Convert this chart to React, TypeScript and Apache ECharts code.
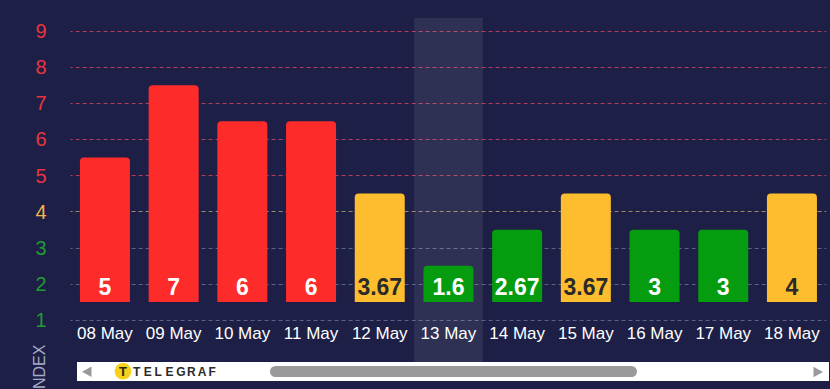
import React, { useEffect, useRef } from "react";
import * as echarts from "echarts";

const categories = ["08 May", "09 May", "10 May", "11 May", "12 May", "13 May", "14 May", "15 May", "16 May", "17 May", "18 May"];
const indexValues = [5, 7, 6, 6, 3.67, 1.6, 2.67, 3.67, 3, 3, 4];
const barLevels = [5, 7, 6, 6, 4, 2, 3, 4, 3, 3, 4];
const yTicks = [1, 2, 3, 4, 5, 6, 7, 8, 9];
const highlighted = "13 May";
const barBase = 1.5;

const RED = "#fe2b2b";
const YELLOW = "#fdbd2e";
const GREEN = "#059d0f";
const FONT = "'Liberation Sans', Arial, sans-serif";

function levelColor(v: number) {
  if (v >= 5) return RED;
  if (v >= 4) return YELLOW;
  return GREEN;
}
function tickColor(v: number) {
  if (v >= 5) return "#e8353d";
  if (v >= 4) return "#f2b447";
  return "#1f9d32";
}
function gridColor(v: number) {
  if (v >= 5) return "#b53c5a";
  if (v >= 4) return "#9a8a6c";
  return "#5e6386";
}

export default function App() {
  const ref = useRef<HTMLDivElement>(null);
  useEffect(() => {
    if (!ref.current) return;
    const chart = echarts.init(ref.current, null, { renderer: "svg" });
    const left = 70.6;
    const right = 3.7;
    const letters = "TELEGRAF".split("");
    const graphics: any[] = [
      {
        type: "text",
        x: 39,
        y: 369,
        rotation: Math.PI / 2,
        style: {
          text: "INDEX",
          fill: "#a9a9c9",
          font: `16px ${FONT}`,
          align: "center",
          verticalAlign: "middle",
        },
      },
      { type: "rect", shape: { x: 77, y: 362, width: 752, height: 19 }, style: { fill: "#ffffff" } },
      { type: "polygon", shape: { points: [[82, 371.7], [91.5, 366.5], [91.5, 377]] }, style: { fill: "#9a9a9a" } },
      { type: "polygon", shape: { points: [[823, 372], [813.5, 366.7], [813.5, 377.3]] }, style: { fill: "#9a9a9a" } },
      { type: "rect", shape: { x: 270, y: 366, width: 367, height: 11, r: 5.5 }, style: { fill: "#9a9a9a" } },
      { type: "circle", shape: { cx: 123, cy: 371.3, r: 8.3 }, style: { fill: "#f6d117" } },
      {
        type: "text",
        x: 123,
        y: 371.8,
        style: { text: "T", fill: "#1e2a22", font: `bold 13px ${FONT}`, align: "center", verticalAlign: "middle" },
      },
      ...letters.map((ch, i) => ({
        type: "text",
        x: 133 + i * 10.8,
        y: 372,
        style: { text: ch, fill: "#2b2b2b", font: `bold 12px ${FONT}`, align: "left", verticalAlign: "middle" },
      })),
    ];

    chart.setOption({
      animation: false,
      backgroundColor: "#1d1f46",
      grid: [
        { left, right, top: 31, bottom: 69 },
        { left, right, top: 18, bottom: 27 },
      ],
      xAxis: [
        {
          type: "category",
          gridIndex: 0,
          data: categories,
          axisLine: { show: false },
          axisTick: { show: false },
          axisLabel: { color: "#ffffff", fontSize: 17, fontFamily: FONT, margin: 5, interval: 0 },
          splitLine: { show: false },
        },
        {
          type: "category",
          gridIndex: 1,
          data: categories,
          axisLine: { show: false },
          axisTick: { show: false },
          axisLabel: { show: false },
          splitLine: { show: false },
          axisPointer: {
            show: true,
            type: "shadow",
            value: categories.indexOf(highlighted),
            status: "show",
            triggerTooltip: false,
            label: { show: false },
            shadowStyle: { color: "rgba(255,255,255,0.08)" },
            z: 0,
          },
        },
      ],
      yAxis: [
        {
          type: "value",
          gridIndex: 0,
          min: yTicks[0],
          max: yTicks[yTicks.length - 1],
          interval: 1,
          axisLine: { show: false },
          axisTick: { show: false },
          axisLabel: {
            fontSize: 20,
            fontFamily: FONT,
            margin: 24,
            color: (v: any) => tickColor(Number(v)),
          },
          splitLine: {
            show: true,
            lineStyle: { type: [4, 3], dashOffset: 2, width: 1, color: yTicks.map(gridColor) },
          },
        },
        { type: "value", gridIndex: 1, show: false, min: 0, max: 1 },
      ],
      series: [
        {
          type: "bar",
          stack: "idx",
          xAxisIndex: 0,
          yAxisIndex: 0,
          barWidth: 50,
          silent: true,
          itemStyle: { color: "transparent" },
          data: categories.map(() => barBase),
        },
        {
          type: "bar",
          stack: "idx",
          xAxisIndex: 0,
          yAxisIndex: 0,
          barWidth: 50,
          data: barLevels.map((lv, i) => ({
            value: lv + 0.5 - barBase,
            itemStyle: { color: levelColor(lv), borderRadius: [4, 4, 0, 0] },
            label: {
              show: true,
              position: "insideBottom",
              distance: 3,
              formatter: String(indexValues[i]),
              color: levelColor(lv) === YELLOW ? "#2a2a2a" : "#ffffff",
              fontSize: 23,
              fontWeight: "bold",
              fontFamily: FONT,
            },
          })),
        },
      ],
      graphic: graphics,
    });
    return () => chart.dispose();
  }, []);
  return <div ref={ref} style={{ width: 830, height: 389, position: "absolute", left: 0, top: 0 }} />;
}
